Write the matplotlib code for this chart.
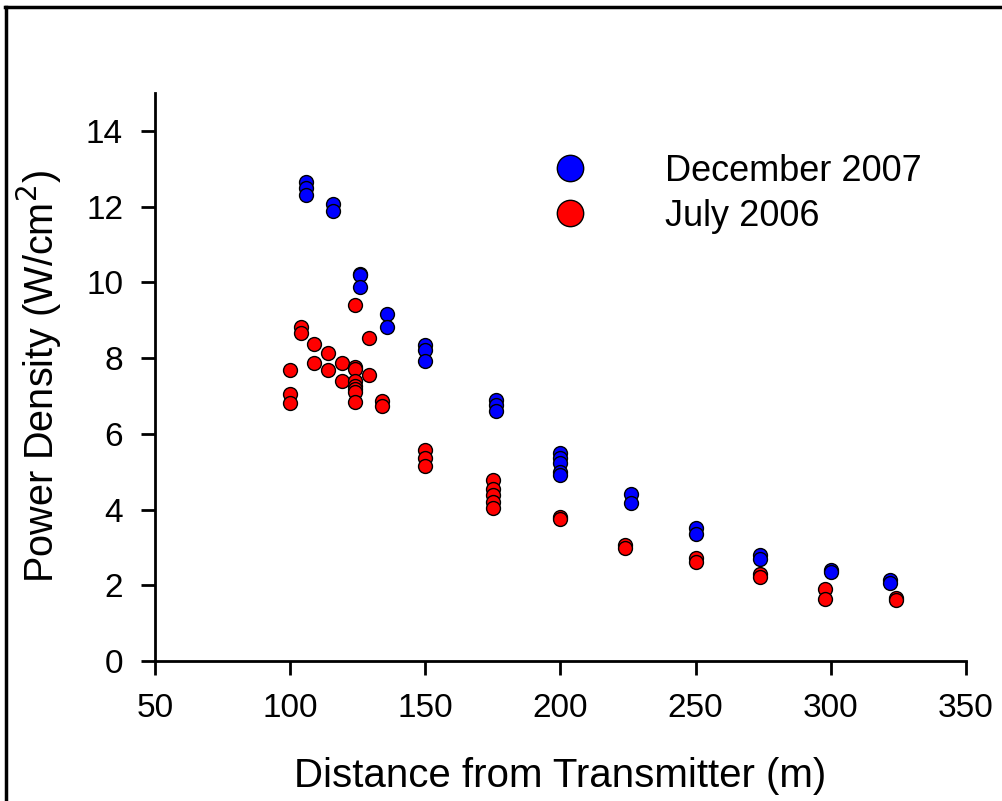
import matplotlib.pyplot as plt
from matplotlib.lines import Line2D

plt.rcParams['font.family'] = ['Liberation Sans', 'DejaVu Sans']

# December 2007 measurements
dec_x = [106, 106, 106, 116, 116, 126, 126, 126, 136, 136,
         150, 150, 150, 176, 176, 176, 200, 200, 200, 200, 200,
         226, 226, 250, 250, 274, 274, 300, 300, 322, 322]
dec_y = [12.64, 12.49, 12.31, 12.07, 11.87, 10.22, 10.18, 9.87, 9.17, 8.83,
         8.34, 8.21, 7.91, 6.89, 6.76, 6.59, 5.49, 5.35, 5.24, 5.00, 4.91,
         4.41, 4.17, 3.50, 3.35, 2.80, 2.69, 2.40, 2.34, 2.14, 2.05]

# July 2006 measurements
jul_x = [100, 100, 100, 104, 104, 109, 109, 114, 114, 119, 119,
         124, 124, 124, 124, 124, 124, 124, 124, 129, 129, 134, 134,
         150, 150, 150, 175, 175, 175, 175, 175, 200, 200,
         224, 224, 250, 250, 274, 274, 298, 298, 324, 324]
jul_y = [7.69, 7.04, 6.82, 8.83, 8.67, 8.36, 7.86, 8.13, 7.69, 7.86, 7.38,
         9.39, 7.77, 7.70, 7.38, 7.27, 7.18, 7.09, 6.83, 8.54, 7.55, 6.87, 6.72,
         5.58, 5.35, 5.16, 4.78, 4.54, 4.38, 4.21, 4.03, 3.81, 3.74,
         3.06, 2.98, 2.71, 2.62, 2.30, 2.23, 1.90, 1.63, 1.66, 1.60]

fig = plt.figure(figsize=(10.02, 8.01), dpi=100)
ax = fig.add_axes([0.1547, 0.1748, 0.8093, 0.7092])

ax.scatter(dec_x, dec_y, s=100, c='#0000ff', edgecolors='black', linewidths=1, zorder=3)
ax.scatter(jul_x, jul_y, s=100, c='#ff0000', edgecolors='black', linewidths=1, zorder=3)

ax.set_xlim(50, 350)
ax.set_ylim(0, 15)
ax.set_xticks(range(50, 351, 50))
ax.set_yticks(range(0, 15, 2))
ax.spines['top'].set_visible(False)
ax.spines['right'].set_visible(False)
for s in ['left', 'bottom']:
    ax.spines[s].set_linewidth(2)
ax.tick_params(direction='out', length=10, width=2, labelsize=24, pad=13)

ax.set_xlabel('Distance from Transmitter (m)', fontsize=29, labelpad=24)
ax.set_ylabel('Power Density (W/cm$^2$)', fontsize=28.5, labelpad=16)

handles = [
    Line2D([], [], marker='o', linestyle='none', markersize=19,
           markerfacecolor='#0000ff', markeredgecolor='black', label='December 2007'),
    Line2D([], [], marker='o', linestyle='none', markersize=19,
           markerfacecolor='#ff0000', markeredgecolor='black', label='July 2006'),
]
ax.legend(handles=handles, frameon=False, loc='upper left',
          bbox_to_anchor=(0.4275, 0.95), fontsize=26, handletextpad=1.62,
          labelspacing=0.28)

# outer frame lines (top and left)
fig.add_artist(Line2D([0.005, 1.0], [0.991, 0.991], color='black', lw=2.5,
                      transform=fig.transFigure))
fig.add_artist(Line2D([0.006, 0.006], [0.0, 0.991], color='black', lw=2.5,
                      transform=fig.transFigure))

fig.savefig('out.png', dpi=100)
